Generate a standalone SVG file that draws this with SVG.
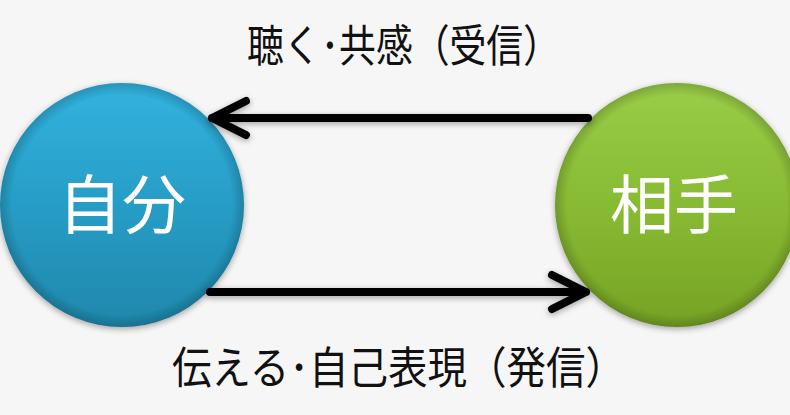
<svg xmlns="http://www.w3.org/2000/svg" width="790" height="415" viewBox="0 0 790 415">
<defs>
<style>
.lbl{font-family:"Noto Sans CJK JP","Noto Sans CJK SC",sans-serif;fill:#111;font-size:44px}
.node-t{font-family:"Noto Sans CJK JP","Noto Sans CJK SC",sans-serif;fill:#fff;font-size:64px;text-anchor:middle}
.conn{stroke:#000;stroke-width:8;fill:none;stroke-linecap:round;stroke-linejoin:round}
</style>
<linearGradient id="gBlue" x1="0" y1="0" x2="0" y2="1">
<stop offset="0" stop-color="#32b3df"/>
<stop offset="0.5" stop-color="#279dc6"/>
<stop offset="1" stop-color="#1f87ab"/>
</linearGradient>
<linearGradient id="gGreen" x1="0" y1="0" x2="0" y2="1">
<stop offset="0" stop-color="#9acd48"/>
<stop offset="0.5" stop-color="#88bb33"/>
<stop offset="1" stop-color="#76a225"/>
</linearGradient>
<radialGradient id="rim" cx="0.5" cy="0.5" r="0.5">
<stop offset="0.9" stop-color="#000" stop-opacity="0"/>
<stop offset="1" stop-color="#000" stop-opacity="0.18"/>
</radialGradient>
<filter id="sh" x="-20%" y="-20%" width="140%" height="140%">
<feGaussianBlur in="SourceAlpha" stdDeviation="3"/>
<feOffset dx="0" dy="2" result="b"/>
<feComponentTransfer><feFuncA type="linear" slope="0.35"/></feComponentTransfer>
<feMerge><feMergeNode/><feMergeNode in="SourceGraphic"/></feMerge>
</filter>
</defs>
<rect width="790" height="415" fill="#f6f6f6"/>
<g id="node-self" filter="url(#sh)">
<circle cx="122" cy="205" r="122" fill="url(#gBlue)"/>
<circle cx="122" cy="205" r="122" fill="url(#rim)"/>
<text class="node-t" x="122" y="228">自分</text>
</g>
<g id="node-other" filter="url(#sh)">
<circle cx="677" cy="205" r="122" fill="url(#gGreen)"/>
<circle cx="677" cy="205" r="122" fill="url(#rim)"/>
<text class="node-t" x="674" y="228">相手</text>
</g>
<g id="connectors" filter="url(#sh)">
<path class="conn" d="M588 118 H212 M246 101 L212 118 L246 135"/>
<path class="conn" d="M210 292 H586 M552 275 L586 292 L552 309"/>
</g>
<g id="labels">
<text class="lbl" x="247" y="62" textLength="313" lengthAdjust="spacingAndGlyphs">聴く･共感（受信）</text>
<text class="lbl" x="172" y="384" font-size="46" textLength="453" lengthAdjust="spacingAndGlyphs">伝える･自己表現（発信）</text>
</g>
</svg>
